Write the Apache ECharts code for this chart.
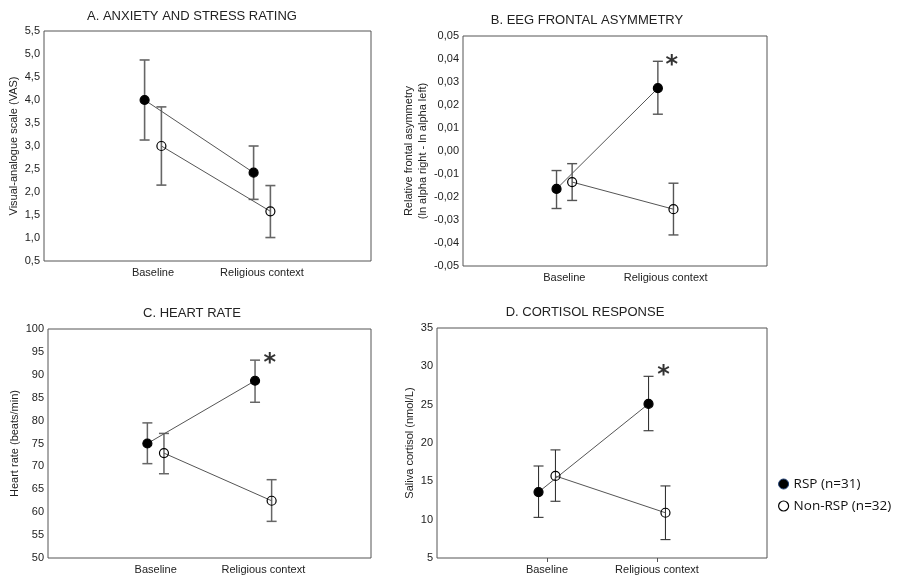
<!DOCTYPE html>
<html>
<head>
<meta charset="utf-8">
<script src="https://cdn.jsdelivr.net/npm/echarts@6/dist/echarts.min.js"></script>
<style>html,body{margin:0;padding:0;background:#fff;}#c{width:898px;height:576px;}</style>
</head>
<body>
<div id="c"></div>
<script>
// ---- data ----
const categories = ['Baseline', 'Religious context'];
const seriesNames = ['RSP (n=31)', 'Non-RSP (n=32)'];

// A. Anxiety and stress rating
const aRspMean = [4.00, 2.42], aRspLow = [3.13, 1.84], aRspHigh = [4.87, 3.00];
const aNonMean = [3.00, 1.58], aNonLow = [2.15, 1.01], aNonHigh = [3.85, 2.14];
const aTicks = [0.5, 5.5, 0.5];

// B. EEG frontal asymmetry
const bRspMean = [-0.0165, 0.0273], bRspLow = [-0.0250, 0.0160], bRspHigh = [-0.0085, 0.0390];
const bNonMean = [-0.0135, -0.0253], bNonLow = [-0.0215, -0.0365], bNonHigh = [-0.0055, -0.0140];
const bTicks = [-0.05, 0.05, 0.01];
const bStar = 0.0401;

// C. Heart rate
const cRspMean = [75.0, 88.7], cRspLow = [70.6, 84.0], cRspHigh = [79.5, 93.2];
const cNonMean = [72.9, 62.5], cNonLow = [68.4, 58.0], cNonHigh = [77.2, 67.1];
const cTicks = [50, 100, 5];
const cStar = 94.0;

// D. Cortisol response
const dRspMean = [13.6, 25.1], dRspLow = [10.3, 21.6], dRspHigh = [17.0, 28.7];
const dNonMean = [15.7, 10.9], dNonLow = [12.4, 7.4], dNonHigh = [19.1, 14.4];
const dTicks = [5, 35, 5];
const dStar = 29.7;

// ---- layout / style ----
const FONT = '"Liberation Sans", Arial, sans-serif';
const OFF = 0.077;     // horizontal dodge of the two groups (x units)
const STAR_OFF = 0.06;
const catPos = categories.map((c, k) => k + 1);

const panels = [
  { title: 'A. ANXIETY AND STRESS RATING', tx: 192, ty: 10,
    grid: { left: 44, top: 31, width: 327, height: 230 },
    name: 'Visual-analogue scale (VAS)', nameGap: 22, dec: 1, ticks: aTicks,
    rsp: [aRspMean, aRspLow, aRspHigh], non: [aNonMean, aNonLow, aNonHigh], star: null, xtick: false,
    ebColor: '#666', ebWidth: 1.6 },
  { title: 'B. EEG FRONTAL ASYMMETRY', tx: 587, ty: 14,
    grid: { left: 463, top: 36, width: 304, height: 230 },
    name: 'Relative frontal asymmetry\n(ln alpha right - ln alpha left)', nameGap: 32, dec: 2, ticks: bTicks,
    rsp: [bRspMean, bRspLow, bRspHigh], non: [bNonMean, bNonLow, bNonHigh], star: bStar, xtick: false,
    ebColor: '#555', ebWidth: 1.4 },
  { title: 'C. HEART RATE', tx: 192, ty: 307,
    grid: { left: 48, top: 329, width: 323, height: 229 },
    name: 'Heart rate (beats/min)', nameGap: 25, dec: 0, ticks: cTicks,
    rsp: [cRspMean, cRspLow, cRspHigh], non: [cNonMean, cNonLow, cNonHigh], star: cStar, xtick: false,
    ebColor: '#666', ebWidth: 1.5 },
  { title: 'D. CORTISOL RESPONSE', tx: 585, ty: 306,
    grid: { left: 437, top: 328, width: 330, height: 230 },
    name: 'Saliva cortisol (nmol/L)', nameGap: 19, dec: 0, ticks: dTicks,
    rsp: [dRspMean, dRspLow, dRspHigh], non: [dNonMean, dNonLow, dNonHigh], star: dStar, xtick: true,
    ebColor: '#333', ebWidth: 1.1 }
];

const option = {
  animation: false,
  backgroundColor: '#fff',
  title: [], grid: [], xAxis: [], yAxis: [], series: [],
  legend: {
    orient: 'vertical', left: 773, top: 472, itemGap: 8, itemWidth: 10, itemHeight: 10,
    icon: 'circle',
    textStyle: { fontFamily: '"Open Sans", "Noto Sans", sans-serif', fontSize: 13.5, color: '#111' },
    data: [
      { name: seriesNames[0], itemStyle: { color: '#000', borderColor: '#1f3f73', borderWidth: 1 } },
      { name: seriesNames[1], itemStyle: { color: '#fff', borderColor: '#000', borderWidth: 1.2 } }
    ],
    selectedMode: false
  }
};

function errRender(color, width) {
  return function (params, api) {
    const x = api.value(0), lo = api.value(1), hi = api.value(2);
    const p1 = api.coord([x, lo]), p2 = api.coord([x, hi]);
    const w = 5;
    const st = { stroke: color, lineWidth: width };
    return { type: 'group', children: [
      { type: 'line', shape: { x1: p1[0], y1: p1[1], x2: p2[0], y2: p2[1] }, style: st },
      { type: 'line', shape: { x1: p1[0] - w, y1: p1[1], x2: p1[0] + w, y2: p1[1] }, style: st },
      { type: 'line', shape: { x1: p2[0] - w, y1: p2[1], x2: p2[0] + w, y2: p2[1] }, style: st }
    ]};
  };
}

panels.forEach((p, i) => {
  option.title.push({ text: p.title, left: p.tx, top: p.ty, textAlign: 'center', padding: 0,
    textStyle: { fontFamily: FONT, fontSize: 13, fontWeight: 'normal', color: '#222' } });
  option.grid.push(Object.assign({ show: true, borderColor: '#555', borderWidth: 1, backgroundColor: 'transparent' }, p.grid));
  option.xAxis.push({ type: 'value', gridIndex: i, min: 0, max: 3, interval: 1,
    axisLine: { show: false }, splitLine: { show: false },
    axisTick: { show: p.xtick, length: 4, inside: false, customValues: catPos, lineStyle: { color: '#555' } },
    axisLabel: { margin: 6, fontFamily: FONT, fontSize: 11, color: '#222', customValues: catPos,
      formatter: v => categories[Math.round(v) - 1] || '' } });
  option.yAxis.push({ type: 'value', gridIndex: i, min: p.ticks[0], max: p.ticks[1], interval: p.ticks[2],
    axisLine: { show: false }, splitLine: { show: false }, axisTick: { show: false },
    name: p.name, nameLocation: 'middle', nameGap: p.nameGap,
    nameTextStyle: { fontFamily: FONT, fontSize: 11, color: '#222', lineHeight: 14 },
    axisLabel: { margin: 4, fontFamily: FONT, fontSize: 11, color: '#222',
      formatter: v => v.toFixed(p.dec).replace('.', ',') } });

  const groups = [
    { d: p.rsp, off: -OFF, name: seriesNames[0], fill: '#000' },
    { d: p.non, off: OFF, name: seriesNames[1], fill: 'rgba(255,255,255,0)' }
  ];
  groups.forEach(g => {
    const [mean, lo, hi] = g.d;
    option.series.push({ type: 'custom', xAxisIndex: i, yAxisIndex: i, z: 2,
      renderItem: errRender(p.ebColor, p.ebWidth), encode: { x: 0, y: [1, 2] },
      data: mean.map((m, k) => [catPos[k] + g.off, lo[k], hi[k]]), silent: true });
  });
  groups.forEach(g => {
    const mean = g.d[0];
    option.series.push({ type: 'line', name: g.name, xAxisIndex: i, yAxisIndex: i, z: 3,
      symbol: 'circle', symbolSize: 9,
      lineStyle: { color: '#555', width: 1 },
      itemStyle: { color: g.fill, borderColor: '#000', borderWidth: 1.2 },
      data: mean.map((m, k) => [catPos[k] + g.off, m]), silent: true });
  });
  if (p.star !== null) {
    option.series.push({ type: 'scatter', xAxisIndex: i, yAxisIndex: i, z: 4, symbolSize: 1,
      itemStyle: { color: 'transparent' },
      label: { show: true, position: 'inside', formatter: '*', offset: [0, 7],
        fontFamily: '"DejaVu Sans", sans-serif', fontSize: 24, fontWeight: 'bold', color: '#000' },
      data: [[catPos[1] + STAR_OFF, p.star]], silent: true });
  }
});

const chart = echarts.init(document.getElementById('c'), null, { renderer: 'canvas' });
chart.setOption(option);
</script>
</body>
</html>
